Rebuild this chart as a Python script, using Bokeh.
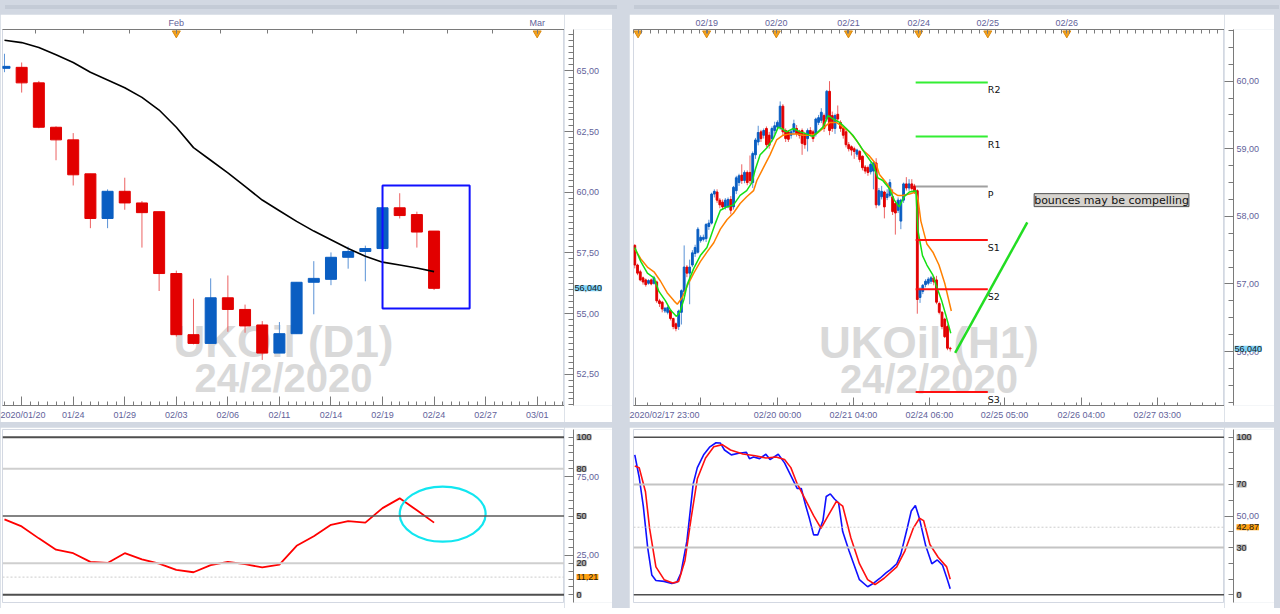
import numpy as np
from bokeh.plotting import figure
from bokeh.models import (Range1d, LinearAxis, FixedTicker, CustomJSTickFormatter,
                          Label, Span, ColumnDataSource, Div)
from bokeh.layouts import row, column
from bokeh.embed import file_html
from bokeh.resources import INLINE
from bokeh.core.properties import value

# ======================= DATA : UKOil D1 =======================
d1_open  = [65.11, 65.15, 64.51, 62.68, 62.16, 60.76, 58.92, 60.04, 59.56, 59.20, 56.65, 54.13, 53.77,
            55.65, 55.17, 54.53, 53.37, 54.17, 56.29, 56.41, 57.32, 57.56, 57.68, 59.36, 59.08, 58.40]
d1_high  = [65.71, 65.35, 64.59, 62.72, 62.44, 60.76, 60.12, 60.60, 59.64, 59.20, 56.77, 55.61, 56.45,
            56.57, 55.37, 54.69, 54.65, 56.29, 57.16, 57.52, 57.76, 57.80, 59.36, 59.96, 59.20, 58.40]
d1_low   = [64.95, 64.11, 62.64, 61.32, 60.28, 58.52, 58.52, 59.28, 57.72, 55.93, 54.05, 53.73, 53.77,
            54.25, 54.21, 53.09, 53.37, 54.17, 54.97, 56.17, 56.85, 56.33, 57.68, 58.92, 57.72, 55.97]
d1_close = [65.19, 64.51, 62.68, 62.16, 60.72, 58.92, 60.04, 59.56, 59.16, 56.65, 54.13, 53.77, 55.65,
            55.17, 54.49, 53.37, 54.17, 56.29, 56.45, 57.32, 57.56, 57.68, 59.36, 59.04, 58.36, 56.04]
d1_ma    = [66.27, 66.17, 65.97, 65.67, 65.35, 64.95, 64.63, 64.31, 63.91, 63.39, 62.68, 61.84, 61.32,
            60.80, 60.24, 59.68, 59.24, 58.80, 58.40, 58.04, 57.68, 57.36, 57.12, 57.00, 56.88, 56.73]
d1_rsi   = [47.9, 43.4, 35.8, 28.6, 26.4, 20.9, 20.2, 26.4, 22.5, 19.8, 15.8, 14.3, 18.8,
            20.9, 19.4, 17.4, 19.2, 31.1, 37.2, 44.4, 46.8, 45.8, 55.0, 61.2, 53.6, 45.8]
d1_bottom_ticks  = [1, 4, 7, 10, 13, 16, 19, 22, 25, 28, 31]
d1_bottom_labels = ["2020/01/20", "01/24", "01/29", "02/03", "02/06", "02/11", "02/14",
                    "02/19", "02/24", "02/27", "03/01"]
d1_top_ticks  = [10, 31]
d1_top_labels = ["Feb", "Mar"]
d1_top_minor  = [1.8, 4.6, 7.3, 10.0, 12.6, 15.3, 17.9, 20.5, 23.2, 25.8, 28.4, 31.0]
d1_price_ticks = [52.5, 55.0, 57.5, 60.0, 62.5, 65.0]
d1_box = [22.0, 27.07, 55.21, 60.28]          # left, right, bottom, top
rsi_levels = [100, 80, 50, 20, 0]
rsi_ticks = [25, 75]
rsi_marker = 11.21
rsi_circle = [25.5, 51.2, 5.0, 35.0]          # x, y, width, height
wm_d1 = ["UKOil (D1)", "24/2/2020"]

# ======================= DATA : UKOil H1 =======================
h1_open = [57.57, 57.28, 57.18, 57.09, 57.06, 57.01, 57.06, 57.01, 57.03, 56.75,
           56.73, 56.60, 56.58, 56.61, 56.49, 56.41, 56.37, 56.58, 56.89, 57.25,
           57.16, 57.28, 57.45, 57.47, 57.64, 57.66, 57.67, 57.85, 57.90, 58.33,
           58.36, 58.24, 58.21, 58.14, 58.14, 58.25, 58.14, 58.38, 58.50, 58.61,
           58.53, 58.65, 58.65, 58.50, 58.91, 59.10, 59.25, 59.20, 59.30, 59.20,
           59.15, 59.27, 59.32, 59.32, 59.63, 59.27, 59.25, 59.20, 59.25, 59.30,
           59.26, 59.27, 59.22, 59.15, 59.27, 59.25, 59.22, 59.39, 59.42, 59.49,
           59.44, 59.85, 59.49, 59.30, 59.51, 59.39, 59.30, 59.25, 59.06, 59.03,
           59.00, 58.92, 58.96, 58.89, 58.73, 58.72, 58.66, 58.67, 58.79, 58.17,
           58.29, 58.36, 58.28, 58.31, 58.29, 58.19, 58.09, 57.93, 58.24, 58.48,
           58.42, 58.48, 58.45, 58.38, 56.80, 56.89, 56.99, 57.01, 57.04, 57.09,
           57.06, 56.71, 56.58, 56.48, 56.37, 56.05]
h1_high = [57.59, 57.30, 57.21, 57.11, 57.08, 57.07, 57.08, 57.12, 57.05, 56.78,
           56.75, 56.66, 56.68, 56.63, 56.50, 56.43, 56.62, 56.92, 57.57, 57.28,
           57.36, 57.50, 57.58, 57.84, 57.72, 57.73, 57.90, 57.95, 58.35, 58.40,
           58.40, 58.27, 58.25, 58.27, 58.28, 58.30, 58.45, 58.60, 58.63, 58.77,
           58.68, 58.68, 58.90, 58.96, 59.16, 59.34, 59.28, 59.30, 59.33, 59.25,
           59.33, 59.40, 59.42, 59.70, 59.66, 59.30, 59.27, 59.28, 59.43, 59.35,
           59.28, 59.30, 59.25, 59.30, 59.32, 59.28, 59.46, 59.50, 59.60, 59.52,
           59.87, 60.00, 59.55, 59.52, 59.64, 59.42, 59.32, 59.28, 59.10, 59.05,
           59.03, 59.00, 58.98, 58.90, 58.76, 58.75, 58.80, 58.82, 58.86, 58.42,
           58.45, 58.38, 58.40, 58.55, 58.40, 58.22, 58.28, 58.26, 58.50, 58.58,
           58.55, 58.55, 58.48, 58.40, 56.95, 57.00, 57.07, 57.10, 57.12, 57.12,
           57.12, 56.74, 56.60, 56.50, 56.40, 56.07]
h1_low = [57.23, 57.13, 57.04, 56.99, 56.96, 56.99, 56.98, 56.99, 56.72, 56.66,
          56.58, 56.57, 56.55, 56.46, 56.33, 56.30, 56.32, 56.40, 56.85, 57.10,
          56.70, 57.25, 57.40, 57.45, 57.61, 57.63, 57.62, 57.80, 57.88, 58.28,
          58.20, 58.12, 58.10, 58.10, 58.12, 58.03, 58.10, 58.33, 58.45, 58.48,
          58.49, 58.46, 58.48, 58.42, 58.85, 59.05, 59.10, 59.15, 59.02, 59.00,
          59.10, 59.22, 59.28, 59.28, 59.20, 59.10, 59.10, 59.15, 59.20, 59.18,
          59.15, 58.91, 59.00, 58.96, 59.18, 59.10, 59.18, 59.35, 59.38, 59.25,
          59.40, 59.20, 59.25, 59.22, 59.40, 59.25, 59.15, 59.02, 58.96, 58.90,
          58.85, 58.88, 58.80, 58.68, 58.63, 58.60, 58.62, 58.40, 58.12, 58.15,
          58.25, 57.97, 58.24, 58.28, 58.02, 57.73, 58.05, 57.81, 58.20, 58.38,
          58.38, 58.38, 58.33, 56.56, 56.72, 56.85, 56.95, 56.98, 57.00, 56.98,
          56.70, 56.55, 56.33, 56.20, 56.02, 56.00]
h1_close = [57.28, 57.16, 57.06, 57.03, 56.99, 57.05, 57.00, 57.09, 56.75, 56.71,
            56.63, 56.64, 56.65, 56.49, 56.37, 56.34, 56.60, 56.90, 57.25, 57.16,
            57.25, 57.46, 57.54, 57.81, 57.69, 57.69, 57.88, 57.90, 58.33, 58.37,
            58.24, 58.17, 58.14, 58.24, 58.25, 58.09, 58.43, 58.57, 58.60, 58.53,
            58.65, 58.50, 58.53, 58.93, 59.13, 59.24, 59.15, 59.27, 59.06, 59.05,
            59.30, 59.34, 59.39, 59.63, 59.25, 59.15, 59.14, 59.25, 59.37, 59.22,
            59.20, 59.08, 59.06, 59.27, 59.22, 59.15, 59.44, 59.46, 59.54, 59.30,
            59.85, 59.27, 59.30, 59.49, 59.44, 59.30, 59.20, 59.06, 59.00, 58.98,
            58.96, 58.98, 58.84, 58.72, 58.67, 58.65, 58.77, 58.79, 58.17, 58.38,
            58.37, 58.14, 58.33, 58.50, 58.07, 58.05, 58.24, 58.24, 58.48, 58.42,
            58.48, 58.41, 58.36, 56.77, 56.92, 56.98, 57.04, 57.07, 57.09, 57.03,
            56.73, 56.58, 56.37, 56.22, 56.05, 56.04]
h1_fast_x = [0, 2.2, 4.6, 7.0, 8.8, 11.2, 13.1, 15.2, 16.4, 17.9, 19.1, 21.5, 23.9, 26.3, 28.2,
             29.4, 31.2, 33.6, 36.0, 38.4, 40.8, 42.7, 43.9, 45.7, 48.1, 50.5, 52.3, 53.5, 55.3,
             57.8, 60.2, 62.6, 65.0, 66.8, 68.6, 70.5, 72.3, 74.7, 77.1, 79.5, 81.9, 84.3, 86.8,
             88.6, 90.4, 92.8, 94.6, 96.4, 98.2, 100.1, 102.5, 103.2, 104.9, 106.5, 108.7, 109.8,
             111.9, 113.6, 115.2]
h1_fast_y = [57.54, 57.33, 57.16, 57.09, 56.89, 56.75, 56.61, 56.52, 56.58, 56.77, 56.99, 57.23,
             57.42, 57.54, 57.76, 57.90, 58.09, 58.14, 58.17, 58.31, 58.38, 58.50, 58.69, 58.91,
             59.01, 59.15, 59.32, 59.30, 59.25, 59.30, 59.25, 59.22, 59.18, 59.25, 59.32, 59.49,
             59.44, 59.39, 59.30, 59.20, 59.06, 58.91, 58.77, 58.57, 58.53, 58.41, 58.24, 58.14,
             58.29, 58.36, 58.38, 57.80, 57.42, 57.28, 57.13, 56.99, 56.75, 56.51, 56.27]
h1_slow_x = [0, 2.2, 4.6, 7.0, 9.4, 11.8, 14.3, 15.5, 17.3, 19.1, 21.5, 23.9, 26.3, 28.8, 31.2,
             33.6, 36.0, 38.4, 40.8, 43.3, 44.5, 46.9, 49.3, 51.7, 54.1, 56.6, 59.0, 61.4, 63.8,
             66.2, 68.6, 71.1, 73.5, 75.9, 78.3, 80.7, 83.1, 85.6, 88.0, 89.2, 91.6, 94.0, 95.8,
             97.6, 100.1, 102.5, 103.3, 104.3, 106.5, 108.7, 110.9, 113.0, 115.4]
h1_slow_y = [57.52, 57.37, 57.25, 57.18, 57.04, 56.87, 56.75, 56.70, 56.80, 56.97, 57.16, 57.33,
             57.47, 57.61, 57.81, 57.95, 58.05, 58.19, 58.29, 58.38, 58.53, 58.72, 58.91, 59.13,
             59.20, 59.22, 59.22, 59.20, 59.20, 59.22, 59.30, 59.39, 59.39, 59.32, 59.25, 59.13,
             58.98, 58.89, 58.77, 58.62, 58.50, 58.36, 58.31, 58.31, 58.33, 58.36, 58.24, 57.93,
             57.59, 57.47, 57.28, 57.01, 56.60]
stoch_k_x = [0, 1.6, 3.1, 4.7, 6.2, 7.7, 10.7, 13.5, 15.3, 16.8, 19.0, 21.3, 22.8, 25.1, 27.4,
             29.6, 31.2, 32.7, 35.2, 37.9, 40.7, 41.8, 43.3, 45.5, 47.8, 49.3, 52.3, 54.6, 56.9,
             59.2, 60.7, 62.2, 63.7, 65.2, 66.7, 68.6, 69.8, 71.3, 72.8, 74.3, 75.8, 78.1, 79.6,
             81.9, 84.9, 87.2, 89.4, 91.7, 93.2, 95.5, 97.0, 99.3, 100.8, 102.3, 103.8, 106.1,
             108.3, 110.3, 112.2, 113.8, 115.0]
stoch_k_y = [88.8, 74.6, 56.3, 29.9, 12.6, 9.1, 8.5, 7.1, 7.9, 13.6, 34.0, 70.5, 80.7, 88.8, 93.9,
             96.5, 96.3, 91.9, 88.8, 89.8, 90.4, 86.4, 87.4, 86.4, 89.2, 85.8, 89.2, 83.7, 75.6,
             67.5, 67.5, 57.3, 48.2, 38.0, 38.0, 47.1, 62.4, 64.0, 60.8, 58.4, 40.1, 27.9, 20.7,
             9.6, 5.1, 7.5, 10.5, 14.0, 16.0, 19.7, 25.8, 42.1, 53.2, 56.7, 48.2, 30.9, 19.7, 22.1,
             18.7, 10.5, 3.8]
stoch_d_x = [0, 1.6, 3.9, 5.4, 7.7, 10.7, 13.8, 16.0, 18.3, 20.5, 22.8, 25.8, 28.8, 31.9, 34.9,
             39.4, 43.9, 47.8, 51.5, 54.6, 56.9, 59.2, 62.2, 65.2, 67.9, 70.5, 73.5, 75.8, 78.8,
             81.9, 84.9, 87.6, 90.9, 95.5, 98.5, 101.5, 103.8, 105.3, 107.6, 110.6, 113.7, 115.0]
stoch_d_y = [81.7, 80.7, 65.4, 42.1, 17.7, 9.6, 7.5, 8.5, 21.8, 48.2, 73.6, 86.8, 93.9, 95.3, 91.9,
             89.4, 88.2, 86.8, 87.4, 85.8, 80.7, 70.5, 60.4, 50.2, 42.1, 50.2, 59.3, 56.3, 36.0,
             19.7, 9.6, 6.5, 10.5, 17.7, 27.9, 42.1, 48.6, 47.1, 31.9, 23.8, 17.7, 9.9]
stoch_levels = [100, 70, 30, 0]
stoch_ticks = [50]
stoch_marker = 42.87
h1_bottom_ticks  = [0.1, 23.9, 52.0, 79.7, 107.4, 134.8, 162.8, 190.5]
h1_bottom_labels = ["2020/02/17 23:00", "", "02/20 00:00", "02/21 04:00", "02/24 06:00",
                    "02/25 05:00", "02/26 04:00", "02/27 03:00"]
h1_top_ticks  = [1.2, 26.2, 51.6, 77.9, 103.5, 128.7, 157.5]
h1_top_labels = ["", "02/19", "02/20", "02/21", "02/24", "02/25", "02/26"]
h1_price_ticks = [56.0, 57.0, 58.0, 59.0, 60.0]
pivot_names  = ["R2", "R1", "P", "S1", "S2", "S3"]
pivot_levels = [59.98, 59.18, 58.44, 57.65, 56.92, 55.40]
pivot_span   = [102.4, 128.7]
trend_x = [116.8, 143.1]
trend_y = [55.98, 57.91]
note_text = "bounces may be compelling"
note_xy = [145.6, 58.24]
wm_h1 = ["UKOil (H1)", "24/2/2020"]

# ======================= STYLE =======================
FONT = "Liberation Sans"
FS = "9px"
LBL = "#62629a"
AXC = "#7a7a7a"
RED, BLUE = "#e20000", "#0a5ec2"
RED_W, BLUE_W = "#ec6262", "#5a92d6"
WM = "#d9d9d9"


def comma(v, nd=2):
    return f"{v:.{nd}f}".replace(".", ",")


def named(ticks, labels):
    return CustomJSTickFormatter(args=dict(tk=ticks, lb=labels),
                                 code="const i = tk.indexOf(tick); return i < 0 ? '' : lb[i];")


def blank():
    return CustomJSTickFormatter(code="return '';")


def make_axis(ticks, minor, fmt, tin, tmin, standoff, tout=0, tmout=0):
    ax = LinearAxis(ticker=FixedTicker(ticks=ticks, minor_ticks=list(minor)), formatter=fmt)
    ax.axis_line_color = AXC
    ax.major_tick_line_color = AXC
    ax.minor_tick_line_color = AXC
    ax.major_tick_in = tin
    ax.major_tick_out = tout
    ax.minor_tick_in = tmin
    ax.minor_tick_out = tmout
    ax.major_label_standoff = standoff
    ax.major_label_text_font = FONT
    ax.major_label_text_font_size = FS
    ax.major_label_text_color = LBL
    return ax


def base_fig(w, h, xr, yr, bl, br, bt, bb, outline="#d3d8e2"):
    p = figure(width=w, height=h, x_range=xr, y_range=yr, output_backend="svg",
               toolbar_location=None, x_axis_location=None, y_axis_location=None,
               min_border_left=bl, min_border_right=br, min_border_top=bt, min_border_bottom=bb)
    p.xgrid.grid_line_color = None
    p.ygrid.grid_line_color = None
    p.background_fill_color = "white"
    p.border_fill_color = "white"
    p.outline_line_color = outline
    p.extra_x_ranges = {"nx": Range1d(0, 1)}
    p.extra_y_ranges = {"ny": Range1d(0, 1)}
    return p


GAP = 9   # white gap between a chart frame and its price scale line


def side_fig(w, h, yr, bt, bb, ticks, minor):
    """Price scale right of a chart (shares the y range): scale line + ticks + texts."""
    s = base_fig(w, h, Range1d(0, 1), yr, GAP, 0, bt, bb, outline=None)
    s.add_layout(make_axis(ticks, minor, blank(), 0, 0, 0, tout=GAP, tmout=5), "left")
    s.text(x=[0] * len(ticks), y=ticks, text=[comma(t) for t in ticks], x_offset=3,
           text_font=value(FONT), text_font_size=FS, text_color=LBL,
           text_baseline="middle", text_align="left")
    return s


def side_box(s, y, text, bg, xoff=3):
    s.add_layout(Label(x=0, y=y, x_offset=xoff, text=text, text_font=FONT, text_font_size=FS,
                       text_color="#1a1a1a", text_baseline="middle", text_align="left",
                       background_fill_color=bg))


def candles(p, o, h, l, c, width):
    up = [ci >= oi for oi, ci in zip(o, c)]
    src = ColumnDataSource(dict(
        x=list(range(len(o))), h=h, l=l,
        top=[max(a, b) for a, b in zip(o, c)], bot=[min(a, b) for a, b in zip(o, c)],
        col=[BLUE if u else RED for u in up], wick=[BLUE_W if u else RED_W for u in up]))
    p.segment(x0="x", y0="h", x1="x", y1="l", line_color="wick", line_width=1, source=src)
    p.vbar(x="x", width=width, top="top", bottom="bot", fill_color="col", line_color="col",
           line_width=1, source=src)


def watermark(p, texts, cx, cy1, cy2, s1, s2):
    for t, cy, s in ((texts[0], cy1, s1), (texts[1], cy2, s2)):
        p.text(x=[cx], y=[cy], text=[t], x_range_name="nx", y_range_name="ny",
               text_font=value("Liberation Sans"), text_font_style="bold", text_font_size=s,
               text_color=WM, text_align="center", text_baseline="middle")


def strip(width, marks):
    parts, pos = [], 0
    for a, b in marks:
        parts.append(f'<div style="width:{a - pos}px;height:4px"></div>')
        parts.append(f'<div style="width:{b - a}px;height:4px;background:#f2a238"></div>')
        pos = b
    html = '<div style="display:flex;height:4px">' + "".join(parts) + "</div>"
    return Div(text=html, width=width, height=4,
               styles={"background-color": "#c4cbd6", "overflow": "hidden"})


W_L, W_R, H_TOP, H_BOT = 612, 645, 408, 181
SIDE_L, SIDE_R = 48, 50

# ======================= D1 main =======================
p1 = base_fig(W_L - SIDE_L, H_TOP, Range1d(-0.115, 32.59), Range1d(51.21, 66.71), 2, 0, 14, 17)
watermark(p1, wm_d1, 0.50, 0.17, 0.072, "44px", "40px")
candles(p1, d1_open, d1_high, d1_low, d1_close, 0.64)
p1.line(list(range(len(d1_ma))), d1_ma, line_color="black", line_width=1.6)
p1.quad(left=[d1_box[0]], right=[d1_box[1]], bottom=[d1_box[2]], top=[d1_box[3]],
        fill_color=None, line_color="#1010ff", line_width=2)
p1.scatter(x=d1_top_ticks, y=[0.99] * len(d1_top_ticks), y_range_name="ny",
           marker="inverted_triangle", size=8, fill_color="#f5a21e", line_color="#d98a10")
p1.add_layout(make_axis(d1_bottom_ticks, np.arange(-0.5, 32.6, 0.5),
                        named(d1_bottom_ticks, d1_bottom_labels), 9, 4, 4), "below")
p1.add_layout(make_axis(d1_top_ticks, d1_top_minor, named(d1_top_ticks, d1_top_labels), 4, 4, 2),
              "above")
s1 = side_fig(SIDE_L, H_TOP, p1.y_range, 14, 17, d1_price_ticks, np.arange(51.25, 66.75, 0.25))
side_box(s1, d1_close[-1], comma(d1_close[-1], 3), "#7fd2f6", 1)

# ======================= D1 RSI =======================
p2 = base_fig(W_L - SIDE_L, H_BOT, p1.x_range, Range1d(-4.9, 104.9), 2, 0, 2, 6)
rsi_styles = {100: ("#4e4e4e", 2), 80: ("#cfcfcf", 2), 50: ("#5a5a5a", 1.6),
              20: ("#cfcfcf", 2), 0: ("#4e4e4e", 2)}
for lv in rsi_levels:
    col, lw = rsi_styles[lv]
    p2.add_layout(Span(location=lv, dimension="width", line_color=col, line_width=lw))
p2.add_layout(Span(location=rsi_marker, dimension="width", line_color="#cccccc",
                   line_width=1, line_dash="2 2"))
p2.line(list(range(len(d1_rsi))), d1_rsi, line_color="#ff0000", line_width=1.8)
p2.ellipse(x=[rsi_circle[0]], y=[rsi_circle[1]], width=[rsi_circle[2]], height=[rsi_circle[3]],
           fill_color=None, line_color="#12e6f0", line_width=2.2)
s2 = side_fig(SIDE_L, H_BOT, p2.y_range, 2, 6, rsi_ticks, np.arange(0, 105, 5))
for lv in rsi_levels:
    side_box(s2, lv, str(lv), "#b0b0b0")
side_box(s2, rsi_marker, comma(rsi_marker), "#ffa010")

# ======================= H1 main =======================
p3 = base_fig(W_R - SIDE_R, H_TOP, Range1d(-0.47, 215.0), Range1d(55.202, 60.764), 4, 0, 14, 17)
watermark(p3, wm_h1, 0.50, 0.168, 0.07, "44px", "40px")
candles(p3, h1_open, h1_high, h1_low, h1_close, 0.66)
p3.line(h1_slow_x, h1_slow_y, line_color="#ff8000", line_width=1.5)
p3.line(h1_fast_x, h1_fast_y, line_color="#14e014", line_width=1.5)
pivot_colors = ["#33ee33", "#33ee33", "#a0a0a0", "#ff1010", "#ff1010", "#ff1010"]
p3.segment(x0=[pivot_span[0]] * 6, x1=[pivot_span[1]] * 6, y0=pivot_levels, y1=pivot_levels,
           line_color=pivot_colors, line_width=2)
p3.text(x=[pivot_span[1]] * 6, y=pivot_levels, text=pivot_names, text_font=value("DejaVu Sans"),
        text_font_size="9.5px", text_color="#111111", text_baseline="top", text_align="left",
        y_offset=2)
p3.line(trend_x, trend_y, line_color="#22dd22", line_width=2.5)
p3.scatter(x=h1_top_ticks, y=[0.99] * len(h1_top_ticks), y_range_name="ny",
           marker="inverted_triangle", size=8, fill_color="#f5a21e", line_color="#d98a10")
p3.add_layout(Label(x=note_xy[0], y=note_xy[1], text=note_text, text_font="DejaVu Sans",
                    text_font_size="11px", text_color="#111111", text_baseline="middle",
                    text_align="left", background_fill_color="#d6d3ce",
                    border_line_color="#505050", border_line_width=1))
p3.add_layout(make_axis(h1_bottom_ticks, np.arange(0.1, 215, 4.6),
                        named(h1_bottom_ticks, h1_bottom_labels), 8, 3, 4), "below")
p3.add_layout(make_axis(h1_top_ticks, np.arange(-0.4, 215, 3), named(h1_top_ticks, h1_top_labels),
                        4, 4, 2), "above")
s3 = side_fig(SIDE_R, H_TOP, p3.y_range, 14, 17, h1_price_ticks, np.arange(55.25, 60.76, 0.25))
side_box(s3, h1_close[-1], comma(h1_close[-1], 3), "#7fd2f6", 1)

# ======================= H1 Stochastic =======================
p4 = base_fig(W_R - SIDE_R, H_BOT, p3.x_range, Range1d(-4.9, 104.9), 4, 0, 2, 6)
stoch_styles = {100: ("#4e4e4e", 1.6), 70: ("#c4c4c4", 2), 30: ("#c4c4c4", 2), 0: ("#4e4e4e", 1.6)}
for lv in stoch_levels:
    col, lw = stoch_styles[lv]
    p4.add_layout(Span(location=lv, dimension="width", line_color=col, line_width=lw))
p4.add_layout(Span(location=stoch_marker, dimension="width", line_color="#cccccc",
                   line_width=1, line_dash="2 2"))
p4.line(stoch_k_x, stoch_k_y, line_color="#1010ff", line_width=1.6)
p4.line(stoch_d_x, stoch_d_y, line_color="#ff1010", line_width=1.6)
s4 = side_fig(SIDE_R, H_BOT, p4.y_range, 2, 6, stoch_ticks, np.arange(0, 105, 10))
for lv in stoch_levels:
    side_box(s4, lv, str(lv), "#b0b0b0")
side_box(s4, stoch_marker, comma(stoch_marker), "#ffa010")

# ======================= LAYOUT =======================
left = column(column(strip(W_L, [(202, 223)]), row(p1, s1)), row(p2, s2), spacing=5)
right = column(column(strip(W_R, [(198, 218), (344, 364)]), row(p3, s3)), row(p4, s4), spacing=5)
page = row(left, right, spacing=7, styles={"background-color": "#d2d8e2"})

open("out.html", "w").write(file_html(page, INLINE))
